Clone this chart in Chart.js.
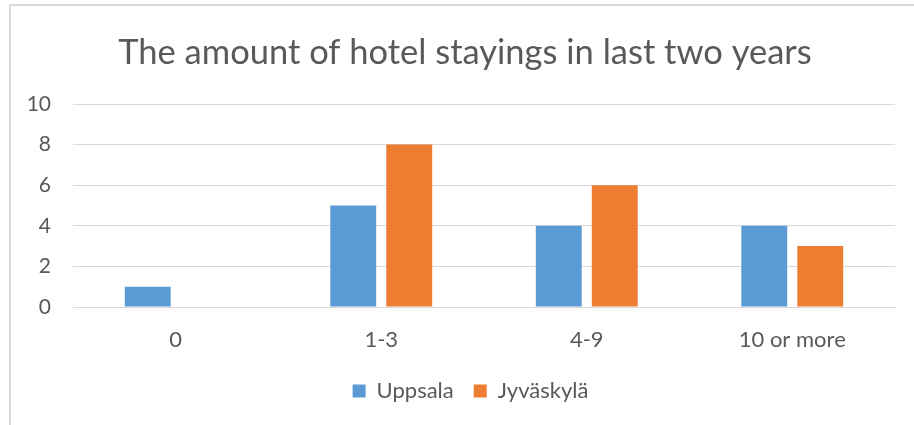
<!DOCTYPE html>
<html>
<head>
<meta charset="utf-8">
<script src="https://cdn.jsdelivr.net/npm/chart.js@4/dist/chart.umd.min.js"></script>
<style>
  html, body { margin: 0; padding: 0; background: #ffffff; overflow: hidden; }
  #frame { position: absolute; left: 9px; top: 4px; width: 930px; height: 440px;
           border-left: 2px solid #d9d9d9; border-top: 2px solid #d9d9d9; }
  #wrap { position: absolute; left: 0; top: 0; width: 914px; height: 425px; }
</style>
</head>
<body>
<div id="frame"></div>
<div id="wrap"><canvas id="c" width="914" height="425"></canvas></div>
<script>
const categories = ["0", "1-3", "4-9", "10 or more"];
const uppsala = [1, 5, 4, 4];
const jyvaskyla = [0, 8, 6, 3];
const seriesNames = ["Uppsala", "Jyväskylä"];
const yTicks = [0, 2, 4, 6, 8, 10];
const titleText = "The amount of hotel stayings in last two years";

const textColor = "#595959";
const fontFamily = "Lato, 'Open Sans', sans-serif";

// Shift title and legend centres to the right (Excel centres them on the whole frame)
const centreShift = {
  id: "centreShift",
  afterLayout(chart) {
    if (chart.titleBlock) chart.titleBlock.left += 15;
    if (chart.legend) chart.legend.left += 26;
  }
};

new Chart(document.getElementById("c"), {
  type: "bar",
  data: {
    labels: categories,
    datasets: [
      { label: seriesNames[0], data: uppsala, backgroundColor: "#5B9BD5" },
      { label: seriesNames[1], data: jyvaskyla, backgroundColor: "#ED7D31" }
    ]
  },
  plugins: [centreShift],
  options: {
    responsive: false,
    animation: false,
    devicePixelRatio: 1,
    layout: { padding: { left: 20, right: 19, top: 0, bottom: 13 } },
    datasets: { bar: { categoryPercentage: 0.545, barPercentage: 0.82 } },
    plugins: {
      title: {
        display: true, text: titleText, color: textColor,
        font: { family: fontFamily, size: 34.5, weight: "normal", lineHeight: 1.2 },
        padding: { top: 32, bottom: 30.6 }
      },
      legend: {
        position: "bottom",
        labels: {
          color: textColor, boxWidth: 13, boxHeight: 13, padding: 20,
          font: { family: fontFamily, size: 22 }
        }
      },
      tooltip: { enabled: false }
    },
    scales: {
      x: {
        grid: { display: false, drawTicks: false },
        border: { display: true, color: "#d9d9d9", width: 1 },
        ticks: { color: textColor, padding: 20, font: { family: fontFamily, size: 22 } },
        afterFit: (s) => { s.height = 53; }
      },
      y: {
        min: 0, max: 10,
        afterBuildTicks: (s) => { s.ticks = yTicks.map(v => ({ value: v })); },
        grid: { color: "#d9d9d9", drawTicks: false },
        border: { display: false },
        ticks: { color: textColor, padding: 22, font: { family: fontFamily, size: 21 } },
        afterFit: (s) => { s.width = 53; }
      }
    }
  }
});
</script>
</body>
</html>
